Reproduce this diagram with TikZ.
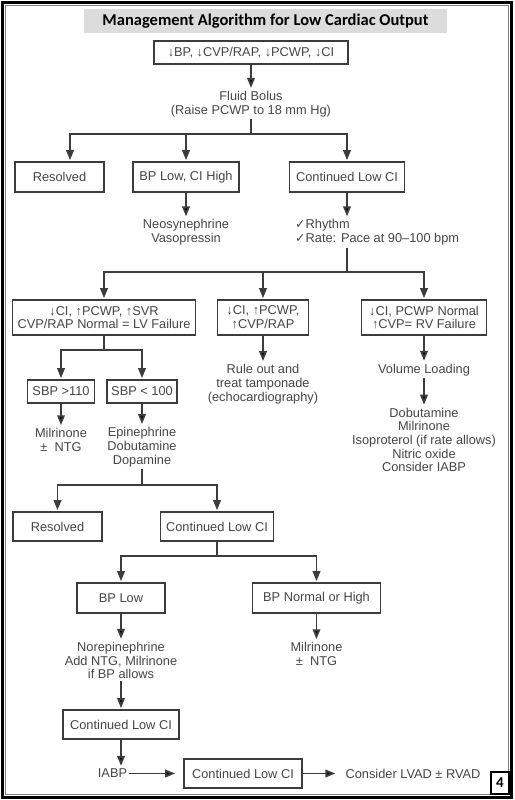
\documentclass[tikz,border=0pt]{standalone}
\usepackage{fontspec}
\setmainfont{Liberation Sans}
\newfontfamily\titlefont{Carlito}
\newfontfamily\symfont{DejaVu Sans}
\usetikzlibrary{positioning,calc,arrows.meta}
\definecolor{ink}{HTML}{454545}
\definecolor{wire}{HTML}{3C3C3C}
\definecolor{titlebg}{HTML}{DCDCDC}

\begin{document}
\begin{tikzpicture}[x=1pt,y=-1pt,>={Triangle[length=10pt,width=7.5pt]},shorten >=1pt,
    main node/.style={draw=wire,line width=1.6pt,text=ink,align=center,inner sep=2pt,
      minimum height=29pt,font=\fontsize{12.8}{13.7}\selectfont},
    text node/.style={text=ink,align=center,inner sep=2pt,font=\fontsize{12.8}{13.7}\selectfont},
    link/.style={draw=wire,line width=1.9pt}]
    \useasboundingbox (0,0) rectangle (514,800);
    % frame and title
      \draw[line width=3pt,black] (2.5,2.5) rectangle (511.5,797.5);
      \draw[line width=1pt,gray] (5.5,5.5) rectangle (508.5,794.5);
      \node[fill=titlebg,minimum width=363pt,minimum height=24pt,
        font=\titlefont\bfseries\fontsize{16.5}{18}\selectfont] (title) at (265.5,21)
        {Management Algorithm for Low Cardiac Output};
    % nodes
      \node[main node,minimum width=194pt,minimum height=23pt] (start) at (251,52.5) {↓BP, ↓CVP/RAP, ↓PCWP, ↓CI};
      \node[text node] (fluid) at (251,104) {Fluid Bolus\\(Raise PCWP to 18 mm Hg)};
      \node[main node,minimum width=89pt,minimum height=30pt] (res1) at (59.5,177) {Resolved};
      \node[main node,minimum width=106pt,minimum height=30pt] (bphigh) at (186,177) {BP Low, CI High};
      \node[main node,minimum width=115pt,minimum height=30pt] (cont1) at (347,177) {Continued Low CI};
      \node[text node] (neo) at (186,232.5) {Neosynephrine\\Vasopressin};
      \node[text node,align=left,anchor=west] (rhythm) at (293,232.5)
        {{\symfont\fontsize{12.5}{13.7}\selectfont ✓}Rhythm\\{\symfont\fontsize{12.5}{13.7}\selectfont ✓}Rate: Pace at 90–100 bpm};
      \node[main node,minimum width=183pt,minimum height=35pt] (lv) at (104,317.5) {↓CI, ↑PCWP, ↑SVR\\CVP/RAP Normal = LV Failure};
      \node[main node,minimum width=91pt,minimum height=35pt] (mid) at (263,317.5) {↓CI, ↑PCWP,\\↑CVP/RAP};
      \node[main node,minimum width=125pt,minimum height=35pt] (rv) at (424,317.5) {↓CI, PCWP Normal\\↑CVP= RV Failure};
      \node[main node,minimum width=67pt,minimum height=23pt] (sbp1) at (61,391.5) {SBP >110};
      \node[main node,minimum width=70pt,minimum height=23pt] (sbp2) at (142,391.5) {SBP < 100};
      \node[text node] (milr1) at (61,440) {Milrinone\\± \ NTG};
      \node[text node] (epi) at (142,447) {Epinephrine\\Dobutamine\\Dopamine};
      \node[text node] (ruleout) at (263,384) {Rule out and\\treat tamponade\\(echocardiography)};
      \node[text node] (vol) at (424,370) {Volume Loading};
      \node[text node] (drugs) at (424,440) {Dobutamine\\Milrinone\\Isoproterol (if rate allows)\\Nitric oxide\\Consider IABP};
      \node[main node,minimum width=89pt,minimum height=29pt] (res2) at (57.5,526.5) {Resolved};
      \node[main node,minimum width=113pt,minimum height=29pt] (cont2) at (217,526.5) {Continued Low CI};
      \node[main node,minimum width=88pt,minimum height=30pt] (bplow) at (121,598) {BP Low};
      \node[main node,minimum width=128pt,minimum height=30pt] (bpnorm) at (316.5,598) {BP Normal or High};
      \node[text node] (norepi) at (121,660.5) {Norepinephrine\\Add NTG, Milrinone\\if BP allows};
      \node[text node] (milr2) at (316.5,654) {Milrinone\\± \ NTG};
      \node[main node,minimum width=116pt,minimum height=29pt] (cont3) at (121,724.5) {Continued Low CI};
      \node[text node] (iabp) at (112.5,773.5) {IABP};
      \node[main node,minimum width=118pt,minimum height=29pt] (cont4) at (243,773.5) {Continued Low CI};
      \node[text node] (lvad) at (413,773.5) {Consider LVAD ± RVAD};
      \node[draw=black,line width=1.4pt,minimum width=18pt,minimum height=22pt,inner sep=0pt,
        font=\titlefont\bfseries\fontsize{15}{15}\selectfont] (num) at (500,783) {4};
    % junctions
      \coordinate (j1) at (251,134);
      \coordinate (j2) at (347,272);
      \coordinate (j3) at (104,350);
      \coordinate (j4) at (142,485);
      \coordinate (j5) at (217,556);
    %edges
      \path[->,link]
        (start) edge (fluid)
        (bphigh) edge (neo)
        (mid) edge (ruleout)
        (rv) edge (vol)
        (vol) edge (drugs)
        (sbp1) edge (milr1)
        (sbp2) edge (epi)
        (bplow) edge (norepi)
        (bpnorm) edge (milr2)
        (norepi) edge (cont3)
        (cont3) edge (cont3.south |- iabp.north)
        (iabp) edge[shorten >=8pt] (cont4)
        (cont4) edge[shorten >=8pt] (lvad)
        (cont1) edge (cont1.south |- rhythm.north);
      \draw[link] (fluid) -- (j1);
      \draw[->,link] (j1) -| ([xshift=10.5pt]res1.north);
      \draw[->,link] (j1) -| (bphigh);
      \draw[->,link] (j1) -| (cont1);
      \draw[link] (cont1.south |- rhythm.south) -- (j2);
      \draw[->,link] (j2) -| (lv);
      \draw[->,link] (j2) -| (mid);
      \draw[->,link] (j2) -| (rv);
      \draw[link] (lv) -- (j3);
      \draw[->,link] (j3) -| (sbp1);
      \draw[->,link] (j3) -| (sbp2);
      \draw[link] (epi) -- (j4);
      \draw[->,link] (j4) -| (res2);
      \draw[->,link] (j4) -| (cont2);
      \draw[link] (cont2) -- (j5);
      \draw[->,link] (j5) -| (bplow);
      \draw[->,link] (j5) -| (bpnorm);
    \end{tikzpicture}
\end{document}
